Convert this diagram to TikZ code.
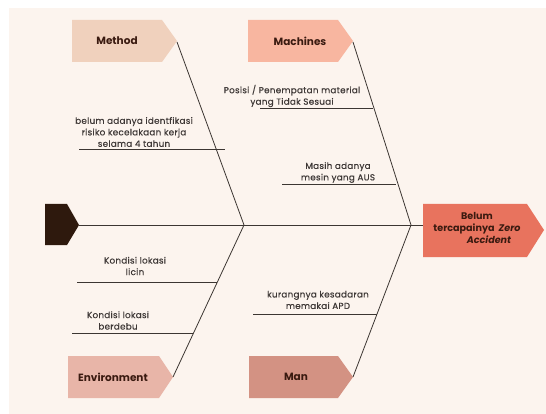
\documentclass[tikz,border=0pt]{standalone}
\usepackage{fontspec}
\setmainfont{Poppins}
\newfontfamily\causefont[LetterSpace=3,FakeBold=0.4]{Poppins}
\definecolor{bgc}{HTML}{FCF4EE}
\definecolor{methodc}{HTML}{F0D1BD}
\definecolor{machc}{HTML}{F8B6A0}
\definecolor{envc}{HTML}{E8B5A8}
\definecolor{manc}{HTML}{D39283}
\definecolor{effc}{HTML}{E8735E}
\definecolor{tailc}{HTML}{2E190D}
\definecolor{linec}{HTML}{3C3632}
\definecolor{causec}{HTML}{3E3836}
\definecolor{headc}{HTML}{3A1A10}
\begin{document}
\begin{tikzpicture}[x=1pt,y=-1pt,
  bone/.style={draw=linec, line width=0.8pt},
  cause/.style={font=\causefont\fontsize{8.8}{11.5}\selectfont, text=causec, align=center, inner sep=0pt},
  head/.style={font=\bfseries\fontsize{10.5}{11}\selectfont, text=headc, inner sep=0pt}]
\useasboundingbox (0,0) rectangle (546,414);
\fill[white] (0,0) rectangle (546,414);
\fill[bgc] (9,8) rectangle (546,414);
% category boxes
\fill[methodc] (72,20) -- (162,20) -- (177,41) -- (162,62) -- (72,62) -- cycle;
\fill[machc] (248,20) -- (338,20) -- (353,41) -- (338,62) -- (248,62) -- cycle;
\fill[envc] (68,356) -- (159,356) -- (173,377) -- (159,398) -- (68,398) -- cycle;
\fill[manc] (249,356) -- (338,356) -- (353,377) -- (338,398) -- (249,398) -- cycle;
\fill[effc] (423,204) -- (527,204) -- (544,230) -- (527,257) -- (423,257) -- cycle;
\fill[tailc] (45,204) -- (67,204) -- (79,225) -- (67,245) -- (45,245) -- cycle;
\node[head] (method) at (117,41) {Method};
\node[head] (mach) at (300,41) {Machines};
\node[head] (env) at (113,377) {Environment};
\node[head] (man) at (296,377) {Man};
\node[head, align=center, font=\bfseries\fontsize{9.6}{12}\selectfont] (eff) at (477,228)
  {Belum\\tercapainya~~\textit{Zero}\\\hspace*{24pt}\textit{Accident}};
% coordinates
\coordinate (mtip) at (177,42);
\coordinate (ctip) at (353,42);
\coordinate (etip) at (173,377);
\coordinate (ntip) at (353,377);
\coordinate (ttip) at (79,225);
\coordinate (effl) at (423,225);
\coordinate (j1) at (244,225);
\coordinate (j2) at (411,225);
% spine and bones
\draw[bone] (ttip) -- (effl);
\draw[bone] (mtip) -- (j1);
\draw[bone] (etip) -- (j1);
\draw[bone] (ctip) -- (j2);
\draw[bone] (ntip) -- (j2);
% cause lines
\coordinate (a1) at (79,149);  \coordinate (a2) at (225,149);
\coordinate (b1) at (260,108); \coordinate (b2) at (373,108);
\coordinate (c1) at (282,184); \coordinate (c2) at (396,184);
\coordinate (d1) at (77,282);  \coordinate (d2) at (217,282);
\coordinate (e1) at (72,333);  \coordinate (e2) at (193,333);
\coordinate (f1) at (253,314); \coordinate (f2) at (377,314);
\draw[bone] (a1) -- (a2);
\draw[bone] (b1) -- (b2);
\draw[bone] (c1) -- (c2);
\draw[bone] (d1) -- (d2);
\draw[bone] (e1) -- (e2);
\draw[bone] (f1) -- (f2);
% cause texts
\node[cause] (ta) at (134,132) {belum adanya identfikasi\\risiko kecelakaan kerja\\selama 4 tahun};
\node[cause] (tb) at (292,96) {Posisi / Penempatan material\\yang Tidak Sesuai};
\node[cause] (tc) at (338,172.5) {Masih adanya\\mesin yang AUS};
\node[cause] (td) at (135,266) {Kondisi lokasi\\licin};
\node[cause] (te) at (118,320.5) {Kondisi lokasi\\berdebu};
\node[cause] (tf) at (318,300) {kurangnya kesadaran\\memakai APD};
\end{tikzpicture}
\end{document}
